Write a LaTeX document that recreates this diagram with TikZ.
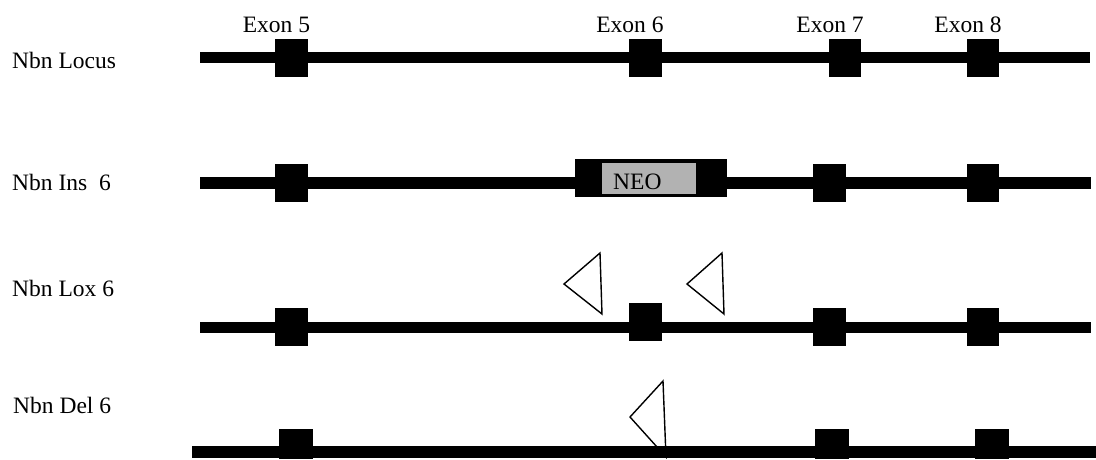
\documentclass[tikz,border=0pt]{standalone}
\usepackage{fontspec}
\setmainfont{Liberation Serif}
\begin{document}
\begin{tikzpicture}[x=1pt,y=-1pt,
  lbl/.style={anchor=base west,inner sep=0pt,font=\fontsize{23.5}{28}\selectfont},
  exlbl/.style={anchor=base,inner sep=0pt,font=\fontsize{23.5}{28}\selectfont},
  dna/.style={line width=11.5pt},
  exon/.style={fill=black},
  loxp/.style={draw=black,line width=1.4pt,line join=miter}]
\useasboundingbox (0,0) rectangle (1096,459);
\fill[white] (0,0) rectangle (1096,459);

% exon labels
\node[exlbl] (l5) at (276.5,32) {Exon 5};
\node[exlbl] (l6) at (630,32) {Exon 6};
\node[exlbl] (l7) at (830,32) {Exon 7};
\node[exlbl] (l8) at (968,32) {Exon 8};

% row labels
\node[lbl] (r1) at (12,68) {Nbn Locus};
\node[lbl] (r2) at (12,190) {Nbn Ins\ \ 6};
\node[lbl] (r3) at (12,296) {Nbn Lox 6};
\node[lbl] (r4) at (13,413) {Nbn Del 6};

% Row 1: Nbn Locus
\draw[dna] (200,57.5) -- (1090,57.5);
\fill[exon] (275,39) rectangle (308,77);
\fill[exon] (629,39) rectangle (662,77);
\fill[exon] (829,39) rectangle (861,77);
\fill[exon] (967,39) rectangle (999,77);

% Row 2: Nbn Ins 6
\draw[dna] (200,183) -- (1091,183);
\fill[exon] (275,164) rectangle (308,202);
\fill[exon] (575,159) rectangle (727,197);
\draw[fill=black!30,line width=0.8pt] (601,162) rectangle (696,194);
\node[lbl] (neo) at (613,189) {NEO};
\fill[exon] (813,164) rectangle (846,202);
\fill[exon] (967,164) rectangle (999,202);

% Row 3: Nbn Lox 6
\draw[loxp] (600,253) -- (564,284) -- (602,314) -- cycle;
\draw[loxp] (722,253) -- (687,284) -- (724,314) -- cycle;
\draw[dna] (200,327.5) -- (1091,327.5);
\fill[exon] (275,308) rectangle (308,346);
\fill[exon] (629,303) rectangle (662,341);
\fill[exon] (813,308) rectangle (846,346);
\fill[exon] (967,308) rectangle (999,346);

% Row 4: Nbn Del 6
\draw[loxp] (663,381) -- (630,417) -- (666,457) -- cycle;
\draw[dna] (192,452) -- (1096,452);
\fill[exon] (279,429) rectangle (313,459);
\fill[exon] (815,429) rectangle (849,459);
\fill[exon] (975,429) rectangle (1009,459);
\end{tikzpicture}
\end{document}
